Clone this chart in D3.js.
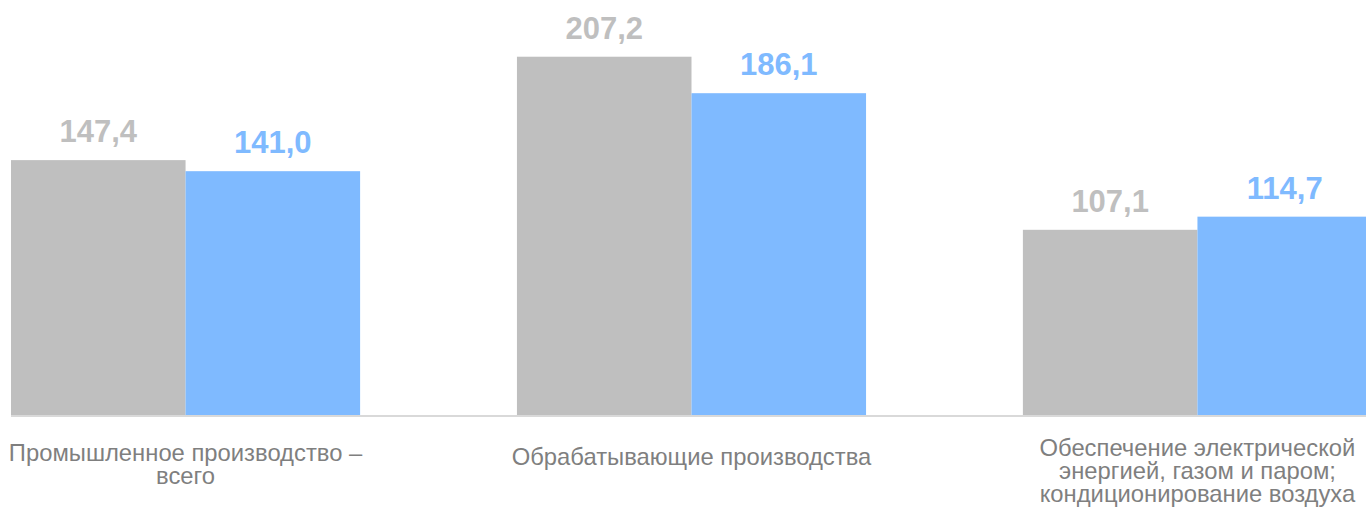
<!DOCTYPE html>
<html>
<head>
<meta charset="utf-8">
<script src="https://cdn.jsdelivr.net/npm/d3@7"></script>
<style>
  html, body { margin: 0; padding: 0; background: #fff; overflow: hidden; }
  svg { display: block; font-family: "Liberation Sans", Arial, sans-serif; }
</style>
</head>
<body>
<div id="chart"></div>
<script>
const categories = [
    ["Промышленное производство –", "всего"],
    ["Обрабатывающие производства"],
    ["Обеспечение электрической", "энергией, газом и паром;", "кондиционирование воздуха"]
];
const seriesNames = ["prev", "curr"];
const prevValues = [147.4, 207.2, 107.1];
const currValues = [141.0, 186.1, 114.7];

const width = 1366, height = 511;
const baseY = 415;
const colors = { prev: "#bfbfbf", curr: "#7fbaff" };
const labelColors = { prev: "#bfbfbf", curr: "#7fbaff" };

const fmt = v => d3.format(".1f")(v).replace(".", ",");

const data = categories.map((c, i) => ({
    key: i,
    lines: c,
    prev: prevValues[i],
    curr: currValues[i]
}));

const svg = d3.select("#chart").append("svg")
    .attr("width", width).attr("height", height);

// group scale: first band starts at x=11, outer padding 0 (last group runs off the edge)
const x0 = d3.scaleBand().domain(data.map(d => d.key))
    .range([11, 1372]).paddingInner(0.31).paddingOuter(0);
const x1 = d3.scaleBand().domain(seriesNames).range([0, x0.bandwidth()]).padding(0);
const y = d3.scaleLinear().domain([0, 240]).range([baseY, 0]);

const groups = svg.selectAll(".grp").data(data).enter().append("g")
    .attr("class", "grp")
    .attr("transform", d => `translate(${x0(d.key)},0)`);

groups.selectAll("rect").data(d => seriesNames.map(s => ({ s, v: d[s] }))).enter()
    .append("rect")
    .attr("x", d => x1(d.s))
    .attr("width", x1.bandwidth())
    .attr("y", d => y(d.v))
    .attr("height", d => y(0) - y(d.v))
    .attr("fill", d => colors[d.s]);

groups.selectAll(".val").data(d => seriesNames.map(s => ({ s, v: d[s] }))).enter()
    .append("text").attr("class", "val")
    .attr("x", d => x1(d.s) + x1.bandwidth() / 2)
    .attr("y", d => y(d.v) - 18)
    .attr("text-anchor", "middle")
    .attr("fill", d => labelColors[d.s])
    .style("font-size", "31px").style("font-weight", "700")
    .text(d => fmt(d.v));

// baseline
svg.append("line")
    .attr("x1", 11).attr("x2", width)
    .attr("y1", baseY + 1).attr("y2", baseY + 1)
    .attr("stroke", "#d9d9d9").attr("stroke-width", 2);

// category labels
const lh = 23;
svg.selectAll(".cat").data(data).enter().append("text")
    .attr("class", "cat")
    .attr("text-anchor", "middle")
    .attr("fill", "#7f7f7f")
    .style("font-size", "23.8px")
    .each(function (d) {
        const cx = x0(d.key) + x0.bandwidth() / 2;
        const n = d.lines.length;
        const first = 465 - (n - 1) * 4.5;
        d3.select(this).selectAll("tspan").data(d.lines).enter().append("tspan")
            .attr("x", cx)
            .attr("y", (t, i) => first + i * lh)
            .text(t => t);
    });
</script>
</body>
</html>
